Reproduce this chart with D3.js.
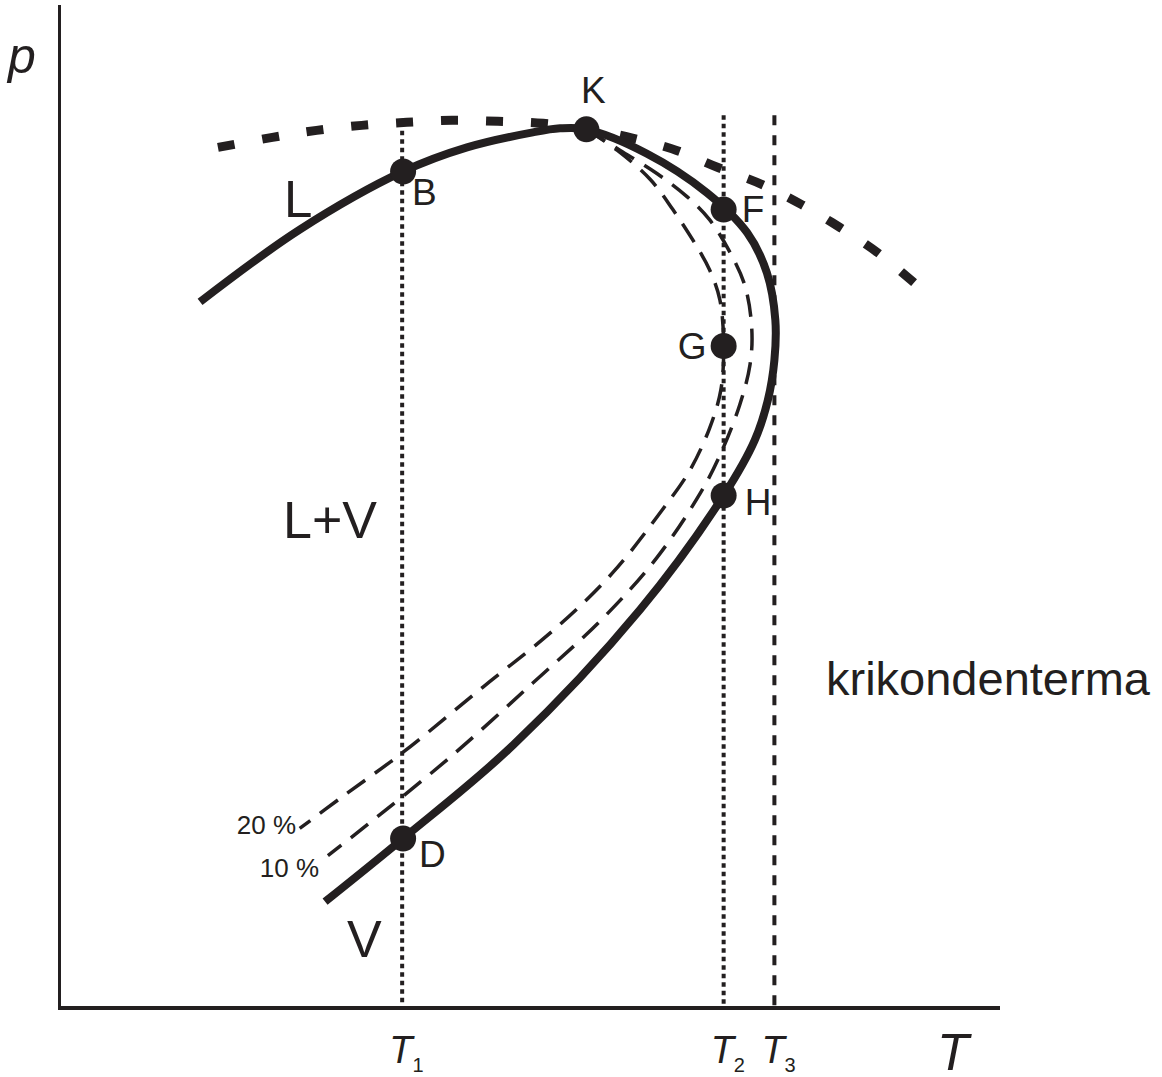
<!DOCTYPE html>
<html>
<head>
<meta charset="utf-8">
<script src="https://cdn.jsdelivr.net/npm/d3@7"></script>
<style>
  html, body { margin: 0; padding: 0; background: #fff; }
  svg { display: block; }
  text { font-family: "Liberation Sans", Arial, sans-serif; fill: #231f20; }
</style>
</head>
<body>
<div id="chart"></div>
<script>
// phase envelope (T and p in relative units 0..100)
const envelope = [
  [14.9, 70.4], [25.5, 77.6], [36.5, 83.4], [43.3, 85.8], [50.3, 87.3],
  [53.2, 87.7], [56.0, 87.6], [62.4, 85.2], [68.8, 81.3], [73.1, 77.3],
  [75.2, 73.3], [76.1, 68.6], [76.0, 64.6], [75.3, 60.6], [73.9, 56.6],
  [70.6, 51.1], [61.7, 39.7], [48.2, 26.2], [36.5, 16.9], [28.2, 10.6]
];

// quality lines (vapour fraction)
const quality10 = [
  [56.0, 87.6], [59.6, 85.5], [63.5, 83.2], [66.7, 80.9], [69.1, 78.6],
  [71.3, 75.3], [72.9, 71.9], [73.6, 67.6], [73.4, 64.1], [72.3, 60.1],
  [70.2, 55.1], [68.1, 51.3], [63.5, 44.9], [57.8, 38.9], [50.3, 32.4],
  [41.5, 25.0], [32.2, 17.9], [28.5, 15.2]
];
const quality20 = [
  [56.0, 87.6], [59.3, 85.5], [62.8, 82.6], [65.2, 79.6], [67.3, 76.6],
  [69.1, 73.6], [70.2, 70.6], [70.6, 66.0], [70.3, 61.6], [69.1, 57.8],
  [67.0, 53.6], [64.1, 49.7], [58.8, 43.4], [52.9, 38.0], [45.0, 32.0],
  [36.5, 25.5], [29.8, 20.9], [25.5, 17.9]
];

// thick dashed curve across the top
const topCurve = [
  [16.8, 85.8], [22.6, 86.8], [27.3, 87.5], [32.1, 88.0], [36.9, 88.3],
  [41.7, 88.5], [46.6, 88.4], [51.4, 88.2], [56.4, 87.6], [61.0, 86.7],
  [65.6, 85.5], [70.0, 83.8], [74.7, 82.1], [78.9, 80.1], [83.0, 77.8],
  [87.0, 75.3], [91.5, 71.8]
];

// isotherms T1, T2, T3
const isothermT = [36.4, 70.6, 76.0];
const isothermTop = [88.3, 89.0, 89.0];
const isothermSub = ['1', '2', '3'];

// marked states
const pointNames = ['B', 'K', 'F', 'G', 'H', 'D'];
const pointT = [36.5, 56.0, 70.6, 70.6, 70.6, 36.5];
const pointP = [83.4, 87.6, 79.6, 66.0, 51.1, 16.9];

const ink = '#231f20';
const width = 1162, height = 1077;

const x = d3.scaleLinear().domain([0, 100]).range([60, 1000]);
const y = d3.scaleLinear().domain([0, 100]).range([1008, 5]);

const svg = d3.select('#chart').append('svg')
  .attr('width', width)
  .attr('height', height);

const line = d3.line()
  .x(d => x(d[0]))
  .y(d => y(d[1]))
  .curve(d3.curveCatmullRom.alpha(0.5));

// axes
svg.append('line')
  .attr('x1', x(0) - 0.5).attr('x2', x(0) - 0.5)
  .attr('y1', y(100)).attr('y2', y(0) + 2)
  .attr('stroke', ink).attr('stroke-width', 3);
svg.append('line')
  .attr('x1', x(0) - 2).attr('x2', x(100))
  .attr('y1', y(0)).attr('y2', y(0))
  .attr('stroke', ink).attr('stroke-width', 4);

// isotherms
isothermT.forEach((t, i) => {
  svg.append('line')
    .attr('x1', x(t)).attr('x2', x(t))
    .attr('y1', y(isothermTop[i])).attr('y2', y(0))
    .attr('stroke', ink).attr('stroke-width', 4)
    .attr('stroke-dasharray', i === 2 ? '10,10' : '4.5,4');
});

// top thick dashed curve
svg.append('path')
  .attr('d', line(topCurve))
  .attr('fill', 'none').attr('stroke', ink)
  .attr('stroke-width', 9)
  .attr('stroke-dasharray', '17,28');

// quality lines
[quality10, quality20].forEach(q => {
  svg.append('path')
    .attr('d', line(q))
    .attr('fill', 'none').attr('stroke', ink)
    .attr('stroke-width', 3.5)
    .attr('stroke-dasharray', '22,12');
});

// envelope
svg.append('path')
  .attr('d', line(envelope))
  .attr('fill', 'none').attr('stroke', ink)
  .attr('stroke-width', 8);

// points
svg.selectAll('.pt')
  .data(pointNames)
  .enter()
  .append('circle')
  .attr('class', 'pt')
  .attr('cx', (d, i) => x(pointT[i]))
  .attr('cy', (d, i) => y(pointP[i]))
  .attr('r', 13)
  .attr('fill', ink);

// point labels, offset from their point
const labelOffset = {
  B: [9, 34, 'start'], K: [7, -26, 'middle'], F: [18, 12, 'start'],
  G: [-17, 13, 'end'], H: [21, 20, 'start'], D: [16, 29, 'start']
};
svg.selectAll('.pl')
  .data(pointNames)
  .enter()
  .append('text')
  .attr('class', 'pl')
  .attr('x', (d, i) => x(pointT[i]) + labelOffset[d][0])
  .attr('y', (d, i) => y(pointP[i]) + labelOffset[d][1])
  .attr('text-anchor', d => labelOffset[d][2])
  .attr('font-size', 37)
  .text(d => d);

// region labels
const region = (txt, px, py, size) => svg.append('text')
  .attr('x', px).attr('y', py)
  .attr('font-size', size)
  .text(txt);
region('L', 284, 217, 51);
region('L+V', 283, 538, 52);
region('V', 347, 957, 52);
region('krikondenterma', 826, 695, 47);

svg.append('text').attr('x', 296).attr('y', 834)
  .attr('text-anchor', 'end').attr('font-size', 26).text('20 %');
svg.append('text').attr('x', 319).attr('y', 877)
  .attr('text-anchor', 'end').attr('font-size', 26).text('10 %');

// axis titles
svg.append('text').attr('x', 8).attr('y', 73)
  .attr('font-size', 50).attr('font-style', 'italic').text('p');
svg.append('text').attr('x', 937).attr('y', 1070)
  .attr('font-size', 52).attr('font-style', 'italic').text('T');

// isotherm labels
isothermT.forEach((t, i) => {
  const lbl = svg.append('text')
    .attr('x', x(t) - 13)
    .attr('y', 1063)
    .attr('font-size', 38);
  lbl.append('tspan').attr('font-style', 'italic').text('T');
  lbl.append('tspan').attr('font-size', 20).attr('dy', 9).text(isothermSub[i]);
});
</script>
</body>
</html>
